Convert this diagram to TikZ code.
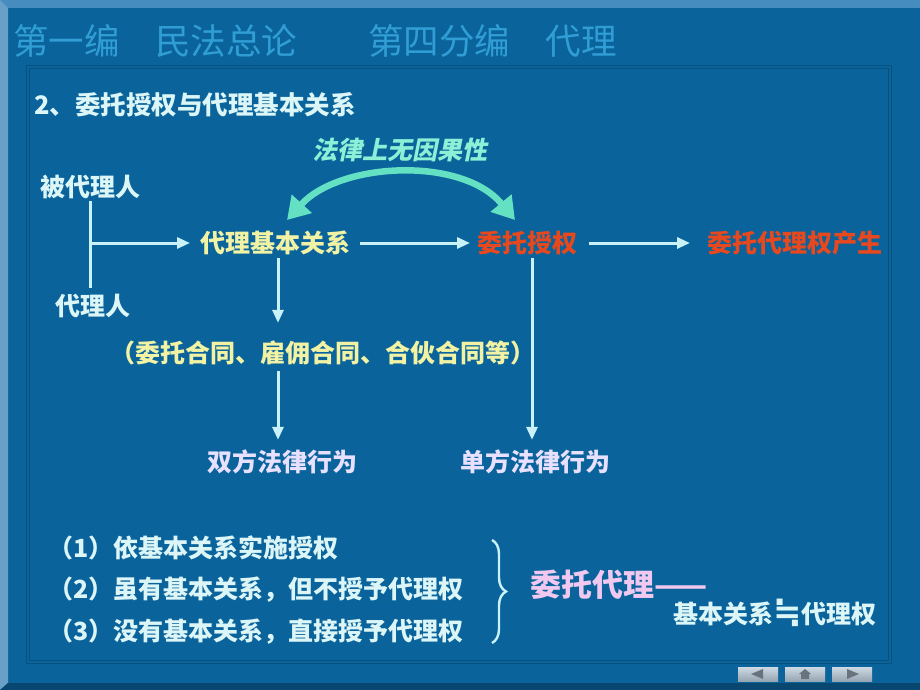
\documentclass[tikz,border=0pt]{standalone}
\usepackage{fontspec}
\setmainfont{Noto Sans CJK SC}
\newfontfamily\cjkit[FakeSlant=0.2]{Noto Sans CJK SC}
\newfontfamily\symfont{DejaVu Sans}
\usetikzlibrary{arrows.meta,decorations.pathreplacing}
\definecolor{bg}{RGB}{10,100,155}
\definecolor{topband}{RGB}{70,140,190}
\definecolor{leftband}{RGB}{105,160,200}
\definecolor{botband}{RGB}{8,72,112}
\definecolor{panelline}{RGB}{8,82,128}
\definecolor{titlec}{RGB}{48,158,212}
\definecolor{textc}{RGB}{220,246,248}
\definecolor{yellowc}{RGB}{242,242,165}
\definecolor{redc}{RGB}{232,72,30}
\definecolor{lavc}{RGB}{232,224,255}
\definecolor{pinkc}{RGB}{240,200,240}
\definecolor{mintc}{RGB}{100,225,195}
\definecolor{mintt}{RGB}{140,240,215}
\definecolor{linec}{RGB}{200,242,248}
\definecolor{btntop}{RGB}{205,218,228}
\definecolor{btnbot}{RGB}{150,165,178}
\definecolor{btnmark}{RGB}{105,115,125}
\tikzset{
  lbl/.style={anchor=west, inner sep=0pt, outer sep=0pt, font=\bfseries\fontsize{25}{30}\selectfont},
  conn/.style={draw=linec, line width=3pt, -{Triangle[length=13pt,width=11pt]}},
  plain/.style={draw=linec, line width=3pt},
  curvearrow/.style={draw=mintc, line width=6.5pt, {Triangle[length=22pt,width=26pt]}-{Triangle[length=22pt,width=26pt]}},
  btn/.style={top color=btntop, bottom color=btnbot, draw=none}
}
\begin{document}
\begin{tikzpicture}[x=1pt,y=-1pt]
\useasboundingbox (0,0) rectangle (920,690);
% frame
\fill[bg] (0,0) rectangle (920,690);
\fill[topband] (0,0) -- (920,0) -- (920,8) -- (8,8) -- cycle;
\fill[leftband] (0,0) -- (8,8) -- (8,683) -- (0,690) -- cycle;
\fill[botband] (0,690) -- (8,683) -- (920,683) -- (920,690) -- cycle;
\draw[panelline, line width=1pt] (26,66) rectangle (891,663);
\draw[panelline, line width=1pt] (29,69) rectangle (888,660);
% title
\node[anchor=west, inner sep=0pt, text=titlec, font=\fontsize{35.5}{40}\selectfont] (title) at (13,41) {第一编　民法总论　　第四分编　代理};
% heading
\node[lbl, text=textc, font=\bfseries\fontsize{25.5}{30}\selectfont] (head) at (34,105) {2、委托授权与代理基本关系};
% flow
\node[lbl, text=textc] (bdl) at (40,187) {被代理人};
\node[lbl, text=textc] (dl) at (55,306) {代理人};
\coordinate (j) at (90,243);
\node[lbl, text=yellowc] (jb) at (200,243) {代理基本关系};
\node[lbl, text=redc] (wt) at (477,243) {委托授权};
\node[lbl, text=redc] (wd) at (707,243) {委托代理权产生};
\node[lbl, text=yellowc] (ct) at (110,353) {（委托合同、雇佣合同、合伙合同等）};
\node[lbl, text=lavc] (sf) at (207,462) {双方法律行为};
\node[lbl, text=lavc] (df) at (460,462) {单方法律行为};
\node[anchor=center, inner sep=0pt, text=mintt, font=\cjkit\bfseries\fontsize{25}{30}\selectfont] (yg) at (400,150) {法律上无因果性};
% connectors
\draw[plain] ([yshift=-2pt]j |- bdl.south) -- ([yshift=6pt]j |- dl.north);
\draw[conn, shorten >=10pt] (j) -- (jb.west);
\draw[conn, shorten <=10pt, shorten >=7pt] (jb.east) -- (wt.west);
\draw[conn, shorten <=12pt, shorten >=17pt] (wt.east) -- (wd.west);
\draw[conn, shorten <=3pt, shorten >=18pt] ([xshift=3pt]jb.south) -- ([xshift=3pt]ct.north -| jb.south);
\draw[conn, shorten <=6pt, shorten >=10pt] ([xshift=3pt]ct.south -| jb.south) -- ([xshift=3pt]sf.north -| jb.south);
\draw[conn, shorten <=3pt, shorten >=10pt] ([xshift=5pt]wt.south) -- ([xshift=5pt]df.north -| wt.south);
\draw[curvearrow] (287,220) .. controls (340,162) and (462,156) .. (515,220);
% list
\node[lbl, text=textc] (l1) at (48,548) {（1）依基本关系实施授权};
\node[lbl, text=textc] (l2) at (48,590) {（2）虽有基本关系，但不授予代理权};
\node[lbl, text=textc] (l3) at (48,632) {（3）没有基本关系，直接授予代理权};
\coordinate (bt) at (492,540);
\coordinate (bb) at (492,643);
\draw[linec, line width=2.4pt, decorate, decoration={brace, amplitude=14pt}] (bt) -- (bb);
\node[lbl, text=pinkc, font=\bfseries\fontsize{31}{36}\selectfont] (wd2) at (530,585) {委托代理——};
\node[lbl, text=textc] (gx) at (673,613) {基本关系{\symfont\bfseries\fontsize{34}{36}\selectfont ≒}代理权};
% nav buttons
\shade[btn] (738,667) rectangle (778,681);
\shade[btn] (785,667) rectangle (825,681);
\shade[btn] (832,667) rectangle (872,681);
\fill[btnmark] (751,674) -- (763,669) -- (763,679) -- cycle;
\fill[btnmark] (805,669) -- (811,674) -- (809,674) -- (809,679) -- (801,679) -- (801,674) -- (799,674) -- cycle;
\fill[btnmark] (859,674) -- (847,669) -- (847,679) -- cycle;
\end{tikzpicture}
\end{document}
